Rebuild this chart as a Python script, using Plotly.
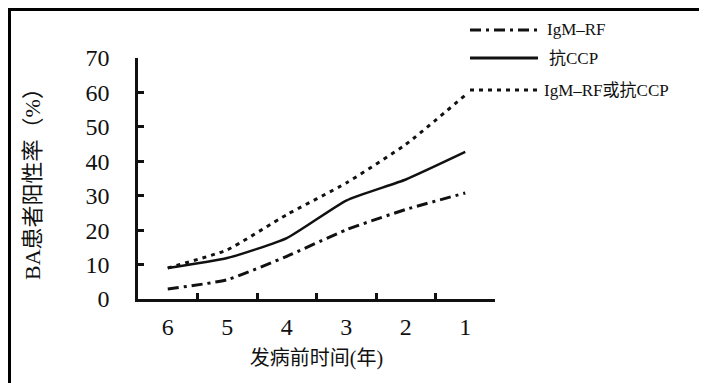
import plotly.graph_objects as go

# ---- data ----
years = ["6", "5", "4", "3", "2", "1"]
igm_rf = [2.9, 5.6, 12.4, 20.1, 26.0, 30.8]
anti_ccp = [9.0, 11.9, 17.7, 28.6, 34.7, 42.7]
either = [9.0, 14.3, 24.5, 33.7, 44.9, 59.2]
y_ticks = [0, 10, 20, 30, 40, 50, 60, 70]
series_names = ["IgM–RF", "抗CCP", "IgM–RF或抗CCP"]

W, H = 707, 383
L, R, T, B = 130, 220, 50, 92
PW, PH = W - L - R, H - T - B

FONT = "'Liberation Serif', 'DejaVu Serif', 'Noto Sans CJK SC', serif"
INK = "#111111"

dashes = ["11px,5px,3px,5px", "solid", "4px,5px"]

fig = go.Figure()
for name, vals, dash in zip(series_names, [igm_rf, anti_ccp, either], dashes):
    fig.add_trace(go.Scatter(
        x=years, y=vals, mode="lines", name=name,
        line=dict(color=INK, width=3 if dash != "solid" else 2.5, dash=dash,
                  shape="spline", smoothing=0.5),
        showlegend=False,
    ))

def px(x):
    return (x - L) / PW

def py(y):
    return (H - B - y) / PH

# manual legend (line samples + labels)
leg_y = [22, 50, 82]
leg_text_x = [537, 539, 534]
shapes = []
annotations = []
for name, dash, yy, tx in zip(series_names, dashes, leg_y, leg_text_x):
    shapes.append(dict(type="line", xref="paper", yref="paper",
                       x0=px(462), x1=px(530), y0=py(yy), y1=py(yy),
                       line=dict(color=INK, width=3, dash=dash)))
    annotations.append(dict(xref="paper", yref="paper", x=px(tx), y=py(yy),
                            text=name, showarrow=False, xanchor="left",
                            yanchor="middle",
                            font=dict(family=FONT, size=17, color=INK)))

# image border
shapes.append(dict(type="rect", xref="paper", yref="paper",
                   x0=px(1.5), x1=px(W - 1.5), y0=py(H - 1.5), y1=py(1.5),
                   line=dict(color="#000000", width=3), fillcolor="rgba(0,0,0,0)",
                   layer="above"))

fig.update_layout(
    width=W, height=H,
    margin=dict(l=L, r=R, t=T, b=B, pad=0),
    paper_bgcolor="white", plot_bgcolor="white",
    font=dict(family=FONT, color=INK, size=20),
    shapes=shapes, annotations=annotations,
    xaxis=dict(
        type="category", categoryorder="array", categoryarray=years,
        range=[-0.5, len(years) - 0.5], autorange=False,
        tickson="boundaries", ticks="inside", ticklen=6, tickwidth=2.5,
        tickcolor=INK, showline=True, linecolor=INK, linewidth=2.5,
        showgrid=False, zeroline=False,
        tickfont=dict(family=FONT, size=24, color=INK),
        ticklabelstandoff=4,
        title=dict(text="发病前时间(年)", font=dict(family=FONT, size=20, color=INK),
                   standoff=13),
    ),
    yaxis=dict(
        range=[0, 70], tickmode="array", tickvals=y_ticks,
        ticktext=[str(v) for v in y_ticks],
        ticks="inside", ticklen=6, tickwidth=2.5, tickcolor=INK,
        showline=True, linecolor=INK, linewidth=2.5,
        showgrid=False, zeroline=False,
        tickfont=dict(family=FONT, size=24, color=INK),
        ticklabelstandoff=21,
        title=dict(text="BA患者阳性率（%）", font=dict(family=FONT, size=22, color=INK),
                   standoff=39),
    ),
)

fig.write_html("out.html")
